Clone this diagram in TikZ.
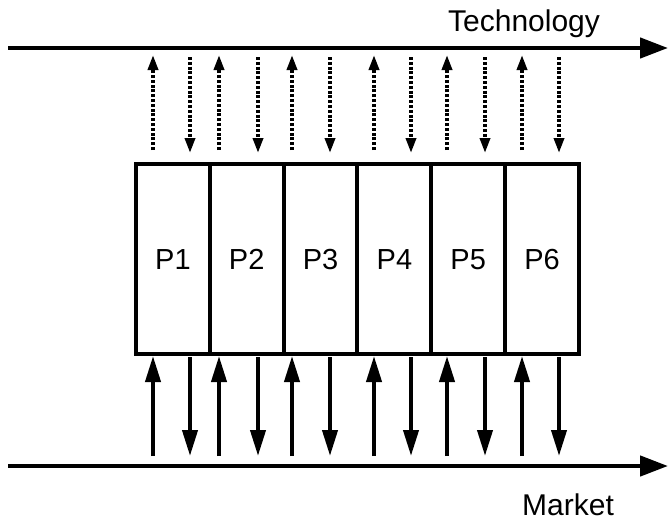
\documentclass[tikz,border=0pt]{standalone}
\usepackage{fontspec}
\setmainfont{Liberation Sans}
\usetikzlibrary{arrows.meta}
\begin{document}
\begin{tikzpicture}[x=1pt,y=-1pt,
  mainline/.style={line width=4.5pt,-{Triangle[length=28pt,width=20pt]}},
  cell/.style={draw,line width=4pt,minimum width=73.8pt,minimum height=190pt,inner sep=0pt,text height=21pt,text depth=0pt,anchor=north west,font=\fontsize{29}{30}\selectfont},
  solidarr/.style={line width=4pt,-{Triangle[length=26pt,width=15pt]}},
  dotarr/.style={line width=3.5pt,dash pattern=on 3pt off 1.8pt,-{Triangle[length=15pt,width=10pt]}},
  lbl/.style={font=\fontsize{30}{32}\selectfont,inner sep=0pt,anchor=base}]
\useasboundingbox (0,0) rectangle (668,522);
\coordinate (tl) at (8,48);
\coordinate (tr) at (668,48);
\coordinate (bl) at (8,466);
\coordinate (br) at (668,466);
\draw[mainline] (tl) -- (tr);
\draw[mainline] (bl) -- (br);
\node[lbl] (tech) at (524,31) {Technology};
\node[lbl] (market) at (568,515) {Market};
\foreach \i in {1,...,6}{
  \node[cell] (P\i) at ({134+(\i-1)*73.83},162) {P\i};
}
\foreach \u/\d in {153/190,219/258,292/330,374/411,447/485,522/559}{
  \coordinate (tu) at (\u,150); \coordinate (tuh) at (\u,55);
  \coordinate (td) at (\d,57); \coordinate (tdh) at (\d,153);
  \draw[dotarr] (tu) -- (tuh);
  \draw[dotarr] (td) -- (tdh);
  \coordinate (bu) at (\u,456); \coordinate (buh) at (\u,356);
  \coordinate (bd) at (\d,357); \coordinate (bdh) at (\d,456);
  \draw[solidarr] (bu) -- (buh);
  \draw[solidarr] (bd) -- (bdh);
}
\end{tikzpicture}
\end{document}
